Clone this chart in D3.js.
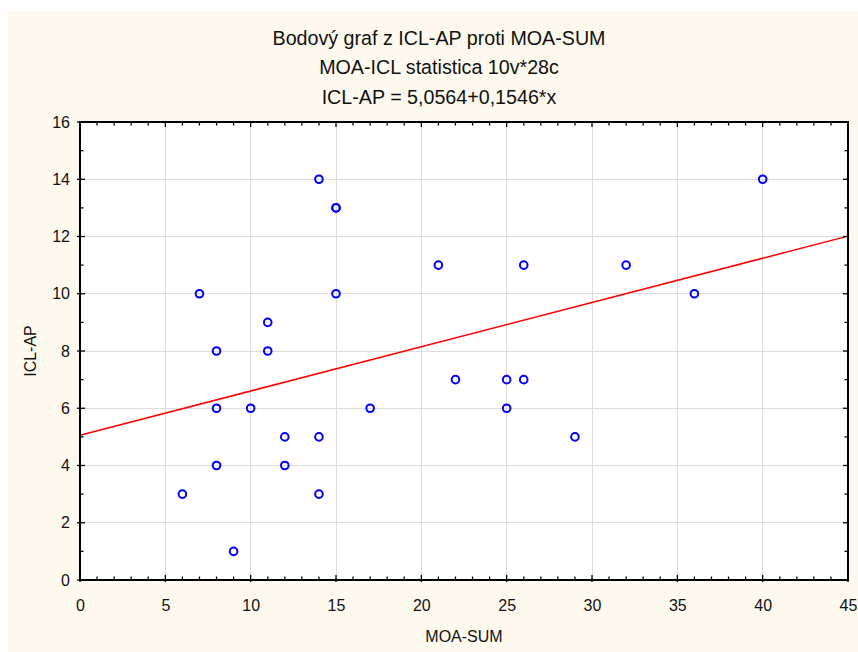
<!DOCTYPE html>
<html><head><meta charset="utf-8">
<script src="https://cdn.jsdelivr.net/npm/d3@7"></script>
<style>
html,body{margin:0;padding:0;background:#fff;}
svg{display:block;}
</style></head>
<body>
<script>
const titleLines = ["Bodový graf z ICL-AP proti MOA-SUM", "MOA-ICL statistica 10v*28c", "ICL-AP = 5,0564+0,1546*x"];
const xLabel = "MOA-SUM";
const yLabel = "ICL-AP";
const moaSum = [6,7,8,8,8,9,10,11,11,12,12,14,14,14,15,15,15,17,21,22,25,25,26,26,29,32,36,40];
const iclAp  = [3,10,8,6,4,1,6,9,8,5,4,14,5,3,13,13,10,6,11,7,7,6,11,7,5,11,10,14];
const intercept = 5.0564, slope = 0.1546;
const xTicks = [0,5,10,15,20,25,30,35,40,45];
const yTicks = [0,2,4,6,8,10,12,14,16];
const xMinor = d3.range(0,46,1);
const yMinor = d3.range(0,17,1);

const W=858,H=652;
const L=80,R=848,T=122,B=580;
const svg=d3.select("body").append("svg").attr("width",W).attr("height",H);
svg.append("rect").attr("x",8).attr("y",11).attr("width",W-8).attr("height",H-11).attr("fill","#fdf9ee");
const x=d3.scaleLinear().domain([0,45]).range([L,R]);
const y=d3.scaleLinear().domain([0,16]).range([B,T]);
svg.append("rect").attr("x",L).attr("y",T).attr("width",R-L).attr("height",B-T).attr("fill","#fff");

// gridlines
svg.append("g").selectAll("line").data(xTicks.slice(1,-1)).join("line")
  .attr("x1",d=>x(d)).attr("x2",d=>x(d)).attr("y1",T).attr("y2",B)
  .attr("stroke","#dcdcdc").attr("stroke-width",1).attr("shape-rendering","crispEdges");
svg.append("g").selectAll("line").data(yTicks.slice(1,-1)).join("line")
  .attr("y1",d=>y(d)).attr("y2",d=>y(d)).attr("x1",L).attr("x2",R)
  .attr("stroke","#dcdcdc").attr("stroke-width",1).attr("shape-rendering","crispEdges");

// regression line
svg.append("line").attr("x1",x(0)).attr("y1",y(intercept)).attr("x2",x(45)).attr("y2",y(intercept+slope*45))
  .attr("stroke","#ff0000").attr("stroke-width",1.5);

// points
svg.append("g").selectAll("circle").data(moaSum.map((d,i)=>[d,iclAp[i]])).join("circle")
  .attr("cx",d=>x(d[0])).attr("cy",d=>y(d[1])).attr("r",3.8)
  .attr("fill","none").attr("stroke","#0000ff").attr("stroke-width",2);

// axes with inner ticks
const fnt="'Liberation Sans', Arial, sans-serif";
const axB=svg.append("g").attr("transform",`translate(0,${B})`).call(d3.axisBottom(x).tickValues(xTicks).tickSize(0).tickPadding(20).tickFormat(d3.format("d")));
const axL=svg.append("g").attr("transform",`translate(${L},0)`).call(d3.axisLeft(y).tickValues(yTicks).tickSize(0).tickPadding(10).tickFormat(d3.format("d")));
[axB,axL].forEach(a=>{a.select(".domain").remove();a.selectAll("text").attr("font-family",fnt).attr("font-size",16).attr("fill","#111");});

const tk=svg.append("g").attr("stroke","#000").attr("stroke-width",1.3);
xMinor.forEach(v=>{
  const major=v%5===0, len=major?5:3.5;
  tk.append("line").attr("x1",x(v)).attr("x2",x(v)).attr("y1",B+(major?2:0)).attr("y2",B-len);
  tk.append("line").attr("x1",x(v)).attr("x2",x(v)).attr("y1",T).attr("y2",T+len);
});
yMinor.forEach(v=>{
  const major=v%2===0, len=major?5:3.5;
  tk.append("line").attr("y1",y(v)).attr("y2",y(v)).attr("x1",L-(major?3:0)).attr("x2",L+len);
  tk.append("line").attr("y1",y(v)).attr("y2",y(v)).attr("x1",R).attr("x2",R-len);
});
svg.append("rect").attr("x",L).attr("y",T).attr("width",R-L).attr("height",B-T)
  .attr("fill","none").attr("stroke","#000").attr("stroke-width",2);

// titles (condensed)
const tg=svg.append("g").attr("transform","translate(439,0) scale(0.96,1)");
tg.selectAll("text").data(titleLines).join("text")
  .attr("x",0).attr("y",(d,i)=>45+i*29.5).attr("text-anchor","middle")
  .attr("font-family",fnt).attr("font-size",20.5).attr("fill","#111").text(d=>d);
svg.append("text").attr("x",(L+R)/2).attr("y",642).attr("text-anchor","middle")
  .attr("font-family",fnt).attr("font-size",16).attr("fill","#111").text(xLabel);
svg.append("text").attr("transform",`translate(36,${(T+B)/2}) rotate(-90)`).attr("text-anchor","middle")
  .attr("font-family",fnt).attr("font-size",16).attr("fill","#111").text(yLabel);
</script>
</body></html>
